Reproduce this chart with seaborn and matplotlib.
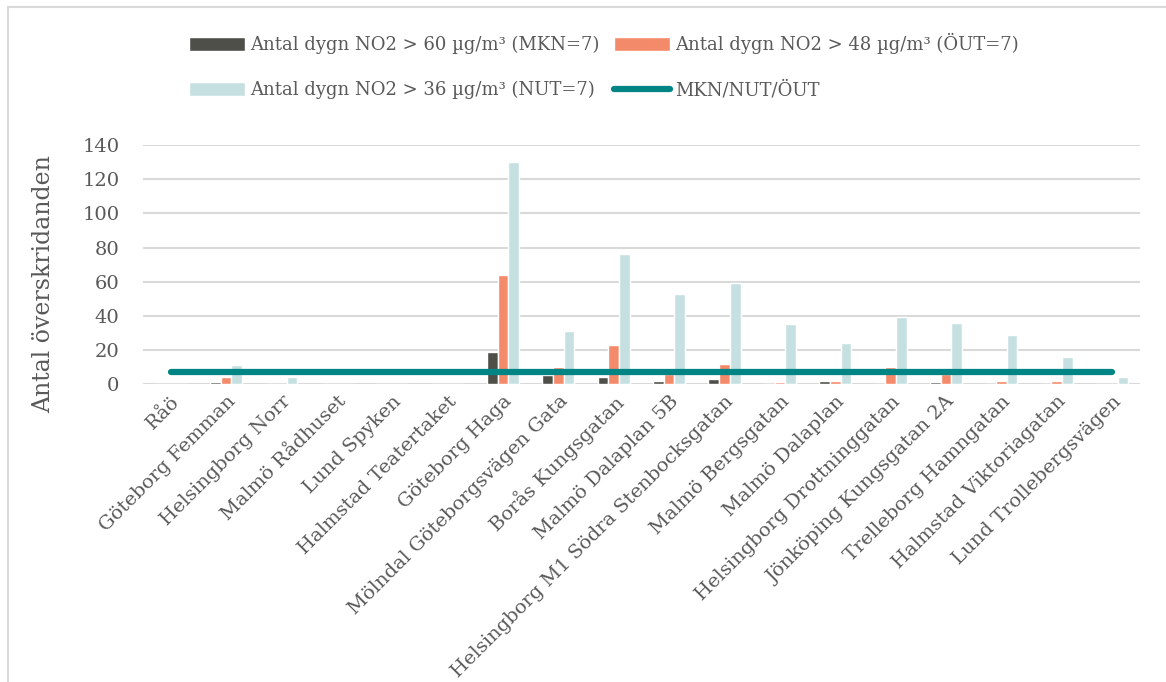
import matplotlib
matplotlib.use("Agg")
import matplotlib.pyplot as plt
import seaborn as sns
import pandas as pd
from matplotlib.patches import Rectangle
from matplotlib.lines import Line2D

stations = [
    "Råö", "Göteborg Femman", "Helsingborg Norr", "Malmö Rådhuset", "Lund Spyken",
    "Halmstad Teatertaket", "Göteborg Haga", "Mölndal Göteborgsvägen Gata",
    "Borås Kungsgatan", "Malmö Dalaplan 5B", "Helsingborg M1 Södra Stenbocksgatan",
    "Malmö Bergsgatan", "Malmö Dalaplan", "Helsingborg Drottninggatan",
    "Jönköping Kungsgatan 2A", "Trelleborg Hamngatan", "Halmstad Viktoriagatan",
    "Lund Trollebergsvägen",
]
over_60 = [0, 1, 0, 0, 0, 0, 19, 5, 4, 2, 3, 0, 2, 0, 1, 0, 0, 0]
over_48 = [0, 4, 0, 0, 0, 0, 64, 10, 23, 6, 12, 1, 2, 10, 6, 2, 2, 0]
over_36 = [0, 11, 4, 0, 0, 0, 130, 31, 76, 53, 59, 35, 24, 39, 36, 29, 16, 4]
limit = [7] * len(stations)

series_names = [
    "Antal dygn NO2 > 60 µg/m³ (MKN=7)",
    "Antal dygn NO2 > 48 µg/m³ (ÖUT=7)",
    "Antal dygn NO2 > 36 µg/m³ (NUT=7)",
]
limit_name = "MKN/NUT/ÖUT"
y_label = "Antal överskridanden"
y_ticks = [0, 20, 40, 60, 80, 100, 120, 140]

colors = ["#4f4f4a", "#f38a6a", "#c6e0e1"]
line_color = "#008584"
text_color = "#595959"
grid_color = "#d9d9d9"

df = pd.DataFrame({
    "station": stations * 3,
    "serie": sum([[n] * len(stations) for n in series_names], []),
    "value": over_60 + over_48 + over_36,
})

sns.set_theme(style="white")
plt.rcParams["font.family"] = ["DejaVu Serif"]

fig = plt.figure(figsize=(11.66, 6.82), dpi=100)
ax = fig.add_axes([0.1226, 0.437, 0.855, 0.350])

sns.barplot(data=df, x="station", y="value", hue="serie", hue_order=series_names,
            palette=colors, width=0.58, gap=0, saturation=1, ax=ax,
            legend=False, errorbar=None, zorder=2)

x_pos = list(range(len(stations)))
ax.plot(x_pos, limit, color=line_color, linewidth=4.5, solid_capstyle="round", zorder=3)

ax.set_xlim(-0.5, len(stations) - 0.5)
ax.set_ylim(0, 140)
ax.set_yticks(y_ticks)
ax.set_yticklabels([str(t) for t in y_ticks], fontsize=14, color=text_color)
ax.yaxis.grid(True, color=grid_color, linewidth=1.5, zorder=0)
ax.set_axisbelow(True)
for s in ax.spines.values():
    s.set_visible(False)
ax.tick_params(axis="both", length=0)
ax.tick_params(axis="y", pad=17)
ax.set_xlabel("")
ax.set_ylabel(y_label, fontsize=17, color=text_color)
ax.yaxis.set_label_coords(-0.088, 0.42)
ax.set_xticks(x_pos)
ax.set_xticklabels(stations, rotation=45, ha="right", rotation_mode="anchor",
                   fontsize=14, color=text_color)
ax.tick_params(axis="x", pad=6)

handles = [
    Rectangle((0, 0), 1, 1, facecolor=colors[0]),
    Rectangle((0, 0), 1, 1, facecolor=colors[2]),
    Rectangle((0, 0), 1, 1, facecolor=colors[1]),
    Line2D([0], [0], color=line_color, linewidth=4.5, solid_capstyle="round"),
]
labels = [series_names[0], series_names[2], series_names[1], limit_name]
leg = fig.legend(handles, labels, loc="upper center", bbox_to_anchor=(0.518, 0.975),
                 ncol=2, frameon=False, fontsize=13, handlelength=3.1, handleheight=0.8,
                 labelspacing=1.45, columnspacing=0.8, handletextpad=0.3)
for t in leg.get_texts():
    t.set_color(text_color)

# chart frame (top and left edges)
fig.add_artist(Rectangle((8 / 1166, -0.1), 1.2, 1 - 7 / 682 + 0.1, transform=fig.transFigure,
                         fill=False, edgecolor=grid_color, linewidth=1.5))

fig.savefig("out.png", dpi=100)
